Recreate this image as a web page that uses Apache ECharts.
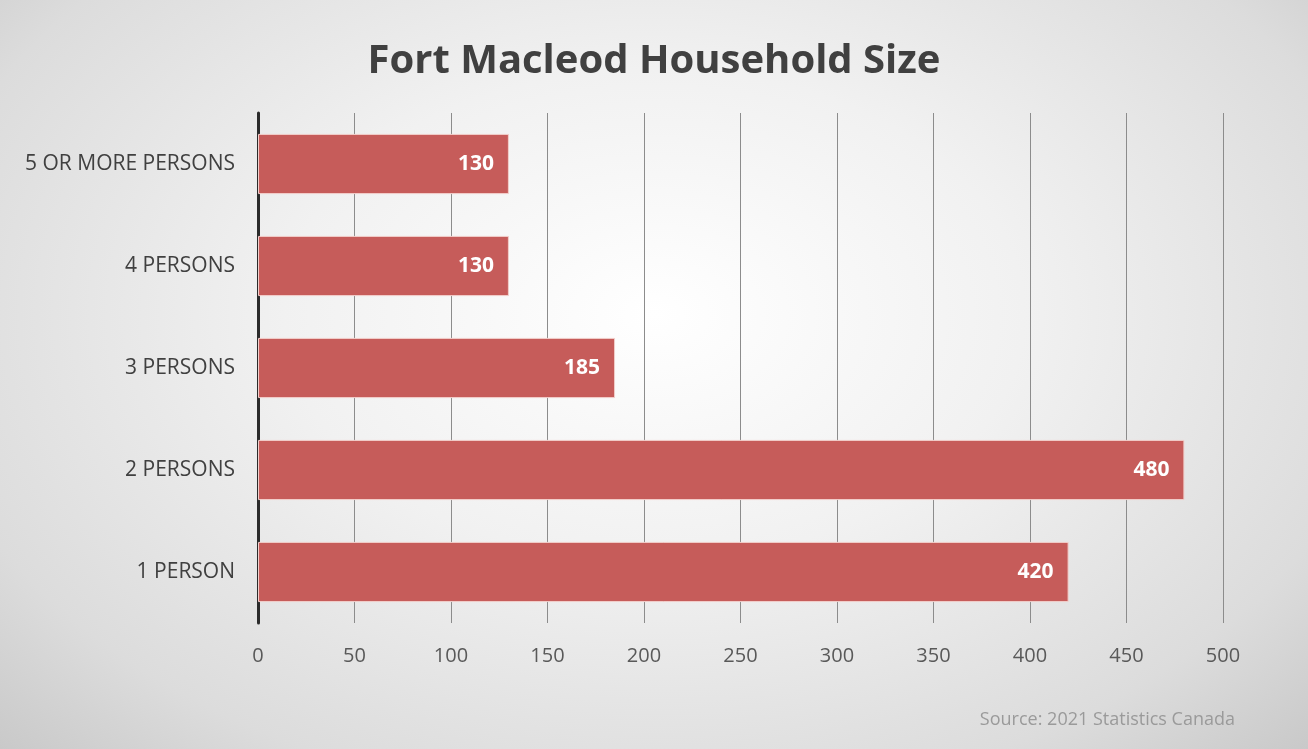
<!DOCTYPE html>
<html>
<head>
<meta charset="utf-8">
<script src="https://cdn.jsdelivr.net/npm/echarts@6/dist/echarts.min.js"></script>
<style>
html,body{margin:0;padding:0;}
#c{width:1308px;height:749px;background:radial-gradient(ellipse at 50% 42%, #ffffff 0%, #f1f1f1 40%, #dcdcdc 80%, #c9c9c9 100%);}
</style>
</head>
<body>
<div id="c"></div>
<script>
const categories = ['1 PERSON', '2 PERSONS', '3 PERSONS', '4 PERSONS', '5 OR MORE PERSONS'];
const values = [420, 480, 185, 130, 130];
const xTicks = [0, 50, 100, 150, 200, 250, 300, 350, 400, 450, 500];
const titleText = 'Fort Macleod Household Size';
const sourceText = 'Source: 2021 Statistics Canada';

const chart = echarts.init(document.getElementById('c'));
chart.setOption({
  backgroundColor: 'transparent',
  title: [
    {text: titleText, left: 'center', top: 37,
     textStyle: {fontFamily: 'Open Sans', fontWeight: 'bold', fontSize: 40, color: '#404040'}},
    {text: sourceText, right: 68, top: 706,
     textStyle: {fontFamily: 'Open Sans', fontWeight: 'normal', fontSize: 18, color: '#9a9a9a'}}
  ],
  grid: {left: 258, right: 85, top: 113, bottom: 126, containLabel: false},
  xAxis: {
    type: 'value', min: xTicks[0], max: xTicks[xTicks.length - 1], interval: 50,
    axisLine: {show: false}, axisTick: {show: false},
    splitLine: {show: true, lineStyle: {color: '#8c8c8c', width: 1}},
    axisLabel: {margin: 23, fontFamily: 'Open Sans', fontSize: 20, color: '#595959'}
  },
  yAxis: {
    type: 'category', data: categories,
    axisLine: {show: true, lineStyle: {color: '#2b2b2b', width: 3}},
    axisTick: {show: false},
    axisLabel: {margin: 23, fontFamily: 'Open Sans', fontSize: 21, color: '#404040'}
  },
  series: [{
    type: 'bar', data: values, barCategoryGap: '41%',
    itemStyle: {color: '#c65c5a', borderColor: '#f2cfcb', borderWidth: 1},
    label: {show: true, position: 'insideRight', distance: 15,
      fontFamily: 'Open Sans', fontWeight: 'bold', fontSize: 21, color: '#ffffff'}
  }],
  animation: false
});
</script>
</body>
</html>
